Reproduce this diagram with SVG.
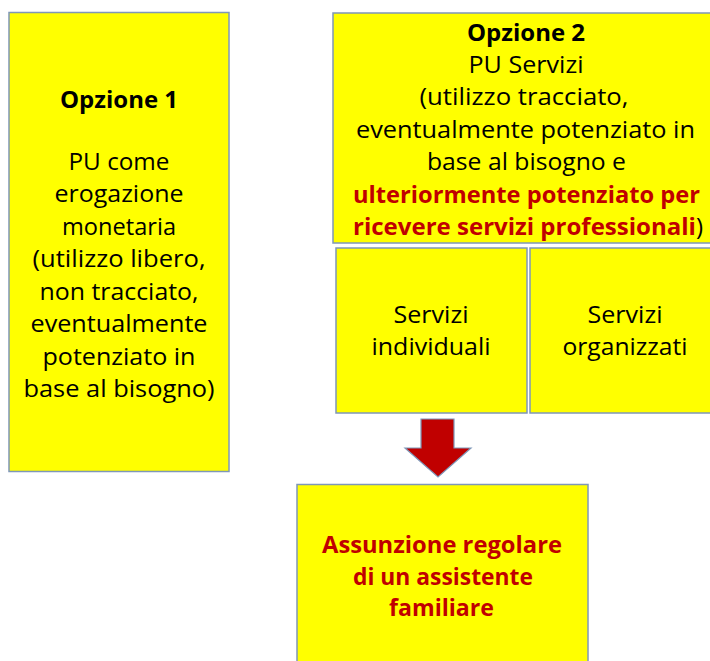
<svg xmlns="http://www.w3.org/2000/svg" width="710" height="661" viewBox="0 0 710 661">
<style>
.box{fill:#FFFF00;stroke:#7F97B8;stroke-width:1.5}
text{font-family:"Open Sans","Noto Sans","Liberation Sans",sans-serif;font-size:23px;fill:#000;text-anchor:middle}
.b{font-weight:bold}
.r{fill:#C00000;font-weight:bold}
</style>
<rect width="710" height="661" fill="#fff"/>
<g id="opzione1">
<rect class="box" x="9" y="12.5" width="220" height="459"/>
<text x="119" y="108" class="b" textLength="118" lengthAdjust="spacingAndGlyphs">Opzione 1</text>
<text x="119" y="170" textLength="101" lengthAdjust="spacingAndGlyphs">PU come</text>
<text x="119" y="202" textLength="129" lengthAdjust="spacingAndGlyphs">erogazione</text>
<text x="119" y="235" textLength="114" lengthAdjust="spacingAndGlyphs">monetaria</text>
<text x="119" y="267" textLength="173" lengthAdjust="spacingAndGlyphs">(utilizzo libero,</text>
<text x="119" y="300" textLength="159" lengthAdjust="spacingAndGlyphs">non tracciato,</text>
<text x="119" y="332" textLength="177" lengthAdjust="spacingAndGlyphs">eventualmente</text>
<text x="119" y="365" textLength="153" lengthAdjust="spacingAndGlyphs">potenziato in</text>
<text x="119" y="397" textLength="191" lengthAdjust="spacingAndGlyphs">base al bisogno)</text>
</g>
<g id="opzione2">
<rect class="box" x="333" y="13" width="390" height="230"/>
<text x="526" y="41" class="b" textLength="118" lengthAdjust="spacingAndGlyphs">Opzione 2</text>
<text x="526" y="73" textLength="115" lengthAdjust="spacingAndGlyphs">PU Servizi</text>
<text x="524" y="105" textLength="209" lengthAdjust="spacingAndGlyphs">(utilizzo tracciato,</text>
<text x="525.5" y="138" textLength="339" lengthAdjust="spacingAndGlyphs">eventualmente potenziato in</text>
<text x="526.5" y="170" textLength="199" lengthAdjust="spacingAndGlyphs">base al bisogno e</text>
<text x="526.5" y="203" class="r" textLength="347" lengthAdjust="spacingAndGlyphs">ulteriormente potenziato per</text>
<text x="528" y="235" textLength="350" lengthAdjust="spacingAndGlyphs"><tspan class="r">ricevere servizi professionali</tspan>)</text>
</g>
<g id="servizi-individuali">
<rect class="box" x="336" y="248" width="191" height="165"/>
<text x="431" y="323" textLength="75" lengthAdjust="spacingAndGlyphs">Servizi</text>
<text x="431" y="355" textLength="119" lengthAdjust="spacingAndGlyphs">individuali</text>
</g>
<g id="servizi-organizzati">
<rect class="box" x="530" y="248" width="190" height="165"/>
<text x="625" y="323" textLength="75" lengthAdjust="spacingAndGlyphs">Servizi</text>
<text x="625" y="355" textLength="125" lengthAdjust="spacingAndGlyphs">organizzati</text>
</g>
<g id="assunzione">
<rect class="box" x="297" y="484.5" width="291" height="190"/>
<text x="442" y="553" class="r" textLength="240" lengthAdjust="spacingAndGlyphs">Assunzione regolare</text>
<text x="443" y="585" class="r" textLength="180" lengthAdjust="spacingAndGlyphs">di un assistente</text>
<text x="441.5" y="616" class="r" textLength="105" lengthAdjust="spacingAndGlyphs">familiare</text>
</g>
<g id="connectors">
<polygon points="421,419 454,419 454,448 471,448 438,477 405,448 421,448" fill="#C00000" stroke="#7F97B8" stroke-width="1.2" stroke-linejoin="miter"/>
</g>
</svg>
